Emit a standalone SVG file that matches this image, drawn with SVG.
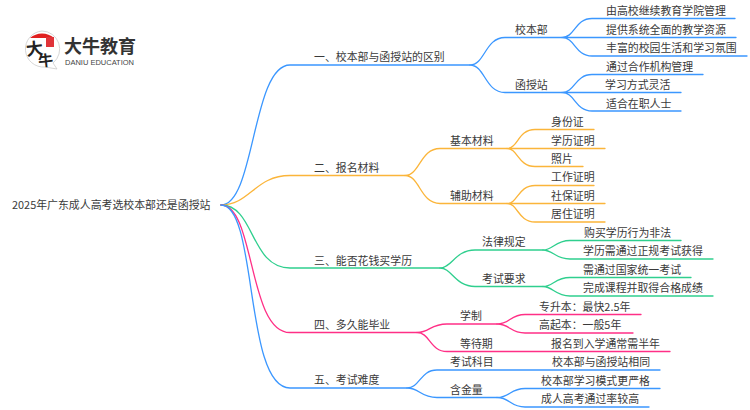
<svg xmlns="http://www.w3.org/2000/svg" width="750" height="410" viewBox="0 0 750 410">
<style>
text{font-family:"Noto Sans CJK SC","Noto Sans",sans-serif;font-size:10.900px;fill:#3a3a3a}
.c{fill:none;stroke-width:1.300;stroke-linecap:round}
.b{stroke:#3b97ff}.y{stroke:#fbb53a}.g{stroke:#2fcf8e}.p{stroke:#ff2f86}
.lt{font-family:"Liberation Sans",sans-serif;font-size:7.500px;fill:#444}
</style>
<rect width="750" height="410" fill="#fff"/>
<g id="logo">
<path d="M42 31a18 18 0 1 0 3 36l12 2-4-6a18 18 0 0 0-11-32z" fill="#fff" stroke="#ccc" stroke-width="0.8"/>
<path d="M30 38a18 18 0 0 1 24 0z" fill="#e0201f"/>
<rect x="46" y="37" width="8" height="10" fill="#e0343a"/>
<text x="26" y="55" transform="rotate(-6 34 49)" style="font-size:17px;font-weight:700;fill:#222">大</text>
<text x="38" y="66" transform="rotate(-6 45 60)" style="font-size:15px;font-weight:700;fill:#222">牛</text>
<text x="64" y="53" style="font-size:18px;font-weight:700;fill:#333">大牛教育</text>
<text x="65" y="64.500" class="lt">DANIU EDUCATION</text>
</g>
<g id="connectors">
<path class="c b" d="M221 205C255 205 252 65 290 65H470"/>
<path class="c y" d="M221 205C250 205 255 175.500 290 175.500H405"/>
<path class="c g" d="M221 205C255 205 250 268 290 268H440"/>
<path class="c p" d="M221 205C255 205 248 332.500 290 332.500H417"/>
<path class="c b" d="M221 205C258 205 244 388 290 388H407"/>
<path class="c b" d="M470 65C485 65 485 37.500 505 37.500H562M470 65C485 65 485 92.500 505 92.500H562"/>
<path class="c b" d="M562 37.500C575 37.500 575 18.500 592 18.500H735M562 37.500H736M562 37.500C575 37.500 575 56 592 56H747"/>
<path class="c b" d="M562 92.500C575 92.500 575 74.500 592 74.500H703M562 92.500H681M562 92.500C575 92.500 575 111 592 111H681"/>
<path class="c y" d="M405 175.500C420 175.500 420 148.500 440 148.500H507M405 175.500C420 175.500 420 203.500 440 203.500H507"/>
<path class="c y" d="M507 148.500C518 148.500 518 129.500 535 129.500H594M507 148.500H605M507 148.500C518 148.500 518 166.500 535 166.500H583"/>
<path class="c y" d="M507 203.500C518 203.500 518 185.500 535 185.500H594M507 203.500H605M507 203.500C518 203.500 518 222 535 222H605"/>
<path class="c g" d="M440 268C452 268 455 250 475 250H543M440 268C452 268 455 286.500 475 286.500H543"/>
<path class="c g" d="M543 250C553 250 555 240.500 570 240.500H681M543 250C553 250 555 259 570 259H713"/>
<path class="c g" d="M543 286.500C553 286.500 555 277.500 570 277.500H691M543 286.500C553 286.500 555 296 570 296H713"/>
<path class="c p" d="M417 332.500C430 332.500 430 324 447 324H497M417 332.500C430 332.500 430 351.500 447 351.500H670"/>
<path class="c p" d="M497 324C510 324 510 314.500 525 314.500H641M497 324C510 324 510 333 525 333H633"/>
<path class="c b" d="M407 388C420 388 420 370 437 370H660M407 388C420 388 420 397.500 437 397.500H497"/>
<path class="c b" d="M497 397.500C510 397.500 510 388.500 525 388.500H660M497 397.500C510 397.500 510 407 525 407H649"/>
</g>
<g id="root"><text x="12" y="208.500">2025年广东成人高考选校本部还是函授站</text></g>
<g id="n1"><text x="314" y="61">一、校本部与函授站的区别</text></g>
<g id="n1-1"><text x="515" y="33.500">校本部</text></g>
<g id="n1-1-1"><text x="606" y="15">由高校继续教育学院管理</text></g>
<g id="n1-1-2"><text x="606" y="33.500">提供系统全面的教学资源</text></g>
<g id="n1-1-3"><text x="606" y="52">丰富的校园生活和学习氛围</text></g>
<g id="n1-2"><text x="515" y="89">函授站</text></g>
<g id="n1-2-1"><text x="606" y="70.500">通过合作机构管理</text></g>
<g id="n1-2-2"><text x="605" y="89">学习方式灵活</text></g>
<g id="n1-2-3"><text x="606" y="107.500">适合在职人士</text></g>
<g id="n2"><text x="314" y="172">二、报名材料</text></g>
<g id="n2-1"><text x="450" y="144.500">基本材料</text></g>
<g id="n2-1-1"><text x="551" y="126">身份证</text></g>
<g id="n2-1-2"><text x="551" y="144.500">学历证明</text></g>
<g id="n2-1-3"><text x="551" y="162.500">照片</text></g>
<g id="n2-2"><text x="450" y="200">辅助材料</text></g>
<g id="n2-2-1"><text x="551" y="181">工作证明</text></g>
<g id="n2-2-2"><text x="551" y="199.500">社保证明</text></g>
<g id="n2-2-3"><text x="551" y="218">居住证明</text></g>
<g id="n3"><text x="314" y="264.500">三、能否花钱买学历</text></g>
<g id="n3-1"><text x="482" y="246">法律规定</text></g>
<g id="n3-1-1"><text x="584" y="236.500">购买学历行为非法</text></g>
<g id="n3-1-2"><text x="583" y="255">学历需通过正规考试获得</text></g>
<g id="n3-2"><text x="482" y="282.500">考试要求</text></g>
<g id="n3-2-1"><text x="583" y="273.500">需通过国家统一考试</text></g>
<g id="n3-2-2"><text x="583" y="292">完成课程并取得合格成绩</text></g>
<g id="n4"><text x="314" y="329">四、多久能毕业</text></g>
<g id="n4-1"><text x="460" y="320">学制</text></g>
<g id="n4-1-1"><text x="539" y="310.500">专升本：最快2.5年</text></g>
<g id="n4-1-2"><text x="539" y="329">高起本：一般5年</text></g>
<g id="n4-2"><text x="460" y="347.500">等待期</text></g>
<g id="n4-2-1"><text x="551" y="347.500">报名到入学通常需半年</text></g>
<g id="n5"><text x="314" y="384">五、考试难度</text></g>
<g id="n5-1"><text x="450" y="366">考试科目</text></g>
<g id="n5-1-1"><text x="552" y="366">校本部与函授站相同</text></g>
<g id="n5-2"><text x="450" y="393.500">含金量</text></g>
<g id="n5-2-1"><text x="541" y="384.500">校本部学习模式更严格</text></g>
<g id="n5-2-2"><text x="541" y="402.500">成人高考通过率较高</text></g>
</svg>
